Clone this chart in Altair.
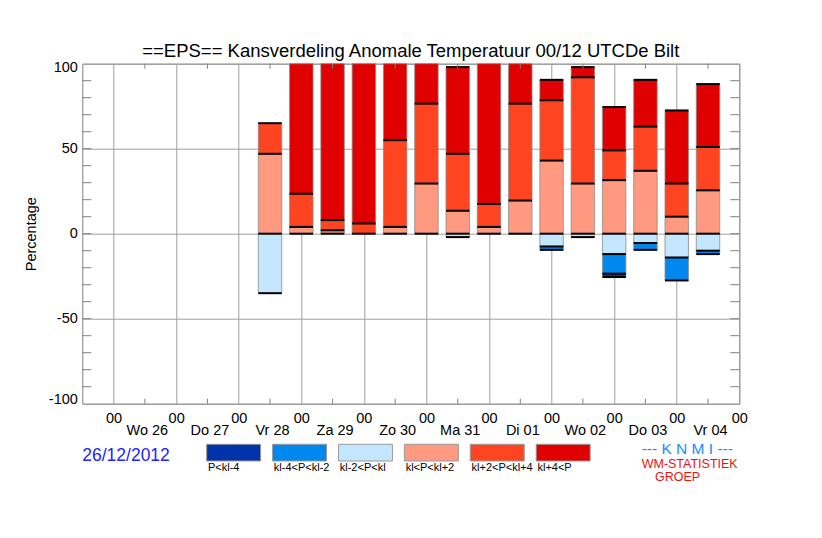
import altair as alt
import pandas as pd

# forecast step (hours after 26/12/2012 00 UTC)
steps = [60, 72, 84, 96, 108, 120, 132, 144, 156, 168, 180, 192, 204, 216, 228]

# probabilities (%) per class
p_lt_m4 = [0, 0, 0, 0, 0, 0, 0, 0, 0, 0, 0, 2, 0, 0, 0]
m4_m2 = [0, 0, 0, 0, 0, 0, 0, 0, 0, 2, 0, 11.5, 4, 13.5, 2]
m2_0 = [35, 0, 0, 0, 0, 0, 2, 0, 0, 7.5, 2, 12, 5.5, 14, 10]
p0_2 = [47, 4, 2, 0, 4, 29.5, 13.5, 4, 19.5, 43, 29.5, 31.5, 37, 10, 25.5]
p2_4 = [18, 19.5, 6, 6, 51, 47, 33.5, 13.5, 57, 35.5, 62.5, 17.5, 26, 19.5, 25.5]
p_gt_4 = [0, 76.5, 92, 94, 45, 23.5, 51, 82.5, 23.5, 12, 6, 25.5, 27.5, 43, 37]

categories = ["P<kl-4", "kl-4<P<kl-2", "kl-2<P<kl", "kl<P<kl+2", "kl+2<P<kl+4", "kl+4<P"]
colors = ["#0033aa", "#0088ee", "#c4e6ff", "#ff9980", "#ff4422", "#e00000"]

midnight_hours = [0, 24, 48, 72, 96, 120, 144, 168, 192, 216, 240]
noon_hours = [12, 36, 60, 84, 108, 132, 156, 180, 204, 228]
day_names = ["Wo 26", "Do 27", "Vr 28", "Za 29", "Zo 30", "Ma 31", "Di 01", "Wo 02", "Do 03", "Vr 04"]
y_labels = [-100, -50, 0, 50, 100]
y_minor = [-90, -80, -70, -60, -50, -40, -30, -20, -10, 0, 10, 20, 30, 40, 50, 60, 70, 80, 90]

TITLE = "==EPS== Kansverdeling Anomale Temperatuur 00/12 UTCDe Bilt"
RUN_DATE = "26/12/2012"

W, H = 657, 340
FONT = "Liberation Sans"

series = [(p_lt_m4, -1, 2), (m4_m2, -1, 1), (m2_0, -1, 0),
          (p0_2, 1, 0), (p2_4, 1, 1), (p_gt_4, 1, 2)]
rows = []
for cat, (vals, sign, ordr) in zip(categories, series):
    for s, v in zip(steps, vals):
        rows.append({"step": s, "cat": cat, "val": sign * v, "ord": ordr})
df = pd.DataFrame(rows)

xscale = alt.Scale(domain=[-12, 240], nice=False, zero=False)
yscale = alt.Scale(domain=[-100, 100], nice=False, zero=False)
cscale = alt.Scale(domain=categories, range=colors)

base = (
    alt.Chart(df)
    .transform_filter("datum.val != 0")
    .transform_stack(stack="val", as_=["y0", "y1"], groupby=["step"],
                     sort=[alt.SortField("ord", order="ascending")])
    .transform_calculate(xa="datum.step - 4.5", xb="datum.step + 4.5")
)

bars = base.mark_rect(stroke="#8c8c8c", strokeWidth=0.8).encode(
    x=alt.X("xa:Q", scale=xscale,
            axis=alt.Axis(values=midnight_hours, labelExpr="'00'", grid=True,
                          gridColor="#a0a0a0", gridWidth=1, ticks=False, tickSize=0,
                          domain=False, labelPadding=8, labelFontSize=14.5,
                          labelFlush=False, labelOverlap=False, title=None,
                          labelColor="black")),
    x2="xb:Q",
    y=alt.Y("y0:Q", scale=yscale,
            axis=alt.Axis(values=y_labels, labelExpr="'' + datum.value",
                          grid=True, gridColor="#a0a0a0", gridWidth=1,
                          ticks=False, tickSize=0, domain=False, labelPadding=5,
                          labelFontSize=14.5, labelFlush=True, labelFlushOffset=3,
                          labelOverlap=False, labelColor="black",
                          title="Percentage", titleFontSize=14.5, titleFontWeight="normal",
                          titleX=-50.6, titleY=H / 2, titleAngle=270, titleAlign="center",
                          titleBaseline="middle", titleColor="black")),
    y2="y1:Q",
    color=alt.Color("cat:N", scale=cscale, legend=None),
)

bounds = base.transform_filter("abs(datum.y1) < 99.9").mark_rule(
    color="black", strokeWidth=2
).encode(
    x=alt.X("xa:Q"), x2="xb:Q", y=alt.Y("y1:Q")
)

zero = (
    alt.Chart(pd.DataFrame({"step": steps}))
    .transform_calculate(xa="datum.step - 4.5", xb="datum.step + 4.5", z="0")
    .mark_rule(color="black", strokeWidth=2)
    .encode(x=alt.X("xa:Q"), x2="xb:Q", y=alt.Y("z:Q"))
)

noon_df = pd.DataFrame({"h": noon_hours})
ticks_bottom = alt.Chart(noon_df).mark_rule(color="#808080").encode(
    x=alt.X("h:Q"), y=alt.value(H), y2=alt.value(H - 5))
ticks_top = alt.Chart(noon_df).mark_rule(color="#808080").encode(
    x=alt.X("h:Q"), y=alt.value(0), y2=alt.value(5))

ym_df = pd.DataFrame({"v": y_minor})
ticks_left = alt.Chart(ym_df).mark_rule(color="#808080").encode(
    y=alt.Y("v:Q"), x=alt.value(0), x2=alt.value(9))
ticks_right = alt.Chart(ym_df).mark_rule(color="#808080").encode(
    y=alt.Y("v:Q"), x=alt.value(W - 9), x2=alt.value(W))

days = alt.Chart(pd.DataFrame({"day": day_names, "h": noon_hours})).mark_text(
    baseline="alphabetic", align="center", fontSize=14.5, dx=2.5, color="black"
).encode(x=alt.X("h:Q"), y=alt.value(371.3), text="day:N")

# legend placed in the same (hour) units as the x scale
leg = alt.Chart(pd.DataFrame({"cat": categories, "i": list(range(len(categories)))})).transform_calculate(
    px="35.7 + 25.28 * datum.i", px2="56.4 + 25.28 * datum.i", tx="36.2 + 25.28 * datum.i")
leg_rects = leg.mark_rect(stroke="#9a9a9a", strokeWidth=1).encode(
    x=alt.X("px:Q"), x2="px2:Q", y=alt.value(380.6), y2=alt.value(397.3),
    color=alt.Color("cat:N", scale=cscale, legend=None))
leg_text = leg.mark_text(align="left", baseline="alphabetic", fontSize=11, color="black").encode(
    x=alt.X("tx:Q"), y=alt.value(407.6), text="cat:N")

dummy = pd.DataFrame({"a": [0]})
title = alt.Chart(dummy).mark_text(text=TITLE, fontSize=18.5, align="center",
                                   baseline="alphabetic", color="black").encode(
    x=alt.value(W / 2), y=alt.value(-6.4))
date_txt = alt.Chart(dummy).mark_text(text=RUN_DATE, fontSize=17.5, align="left",
                                      baseline="alphabetic", color="#2222ff").encode(
    x=alt.value(0), y=alt.value(397))
knmi = alt.Chart(dummy).mark_text(text="--- K N M I ---", fontSize=15.5, align="left",
                                  baseline="alphabetic", color="#1a8cff").encode(
    x=alt.value(559.4), y=alt.value(390.3))
wm = alt.Chart(dummy).mark_text(text="WM-STATISTIEK", fontSize=12.5, align="left",
                                baseline="alphabetic", color="#ee1111").encode(
    x=alt.value(559.4), y=alt.value(404.6))
groep = alt.Chart(dummy).mark_text(text="GROEP", fontSize=12.5, align="left",
                                   baseline="alphabetic", color="#ee1111").encode(
    x=alt.value(572.7), y=alt.value(417.3))

chart = alt.layer(
    bars, bounds, zero, ticks_bottom, ticks_top, ticks_left, ticks_right,
    days, leg_rects, leg_text, title, date_txt, knmi, wm, groep
).properties(
    width=W, height=H,
    padding={"left": 74.3, "top": 55.7, "right": 74, "bottom": 126},
    autosize=alt.AutoSizeParams(type="none"),
).configure(font=FONT).configure_view(stroke="#808080", strokeWidth=1)

chart.save("out.html", embed_options={"renderer": "svg", "actions": False})
